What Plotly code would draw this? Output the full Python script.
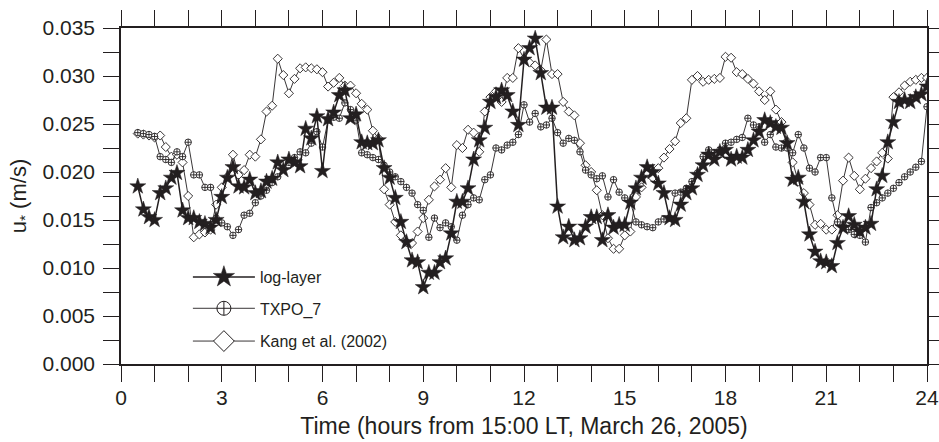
import plotly.graph_objects as go

# 10-minute samples from 0.5 h to 24 h after 15:00 LT
hours = [0.5 + i / 6 for i in range(142)]

log_layer = [
    .0185, .0161, .0153, .0150, .0178, .0183, .0194, .0199, .0160, .0152,
    .0152, .0148, .0146, .0142, .0150, .0174, .0194, .0205, .0185, .0184,
    .0192, .0178, .0180, .0190, .0193, .0210, .0202, .0213, .0210, .0206,
    .0245, .0235, .0258, .0201, .0255, .0262, .0280, .0285, .0256, .0260,
    .0231, .0230, .0230, .0233, .0204, .0194, .0173, .0148, .0127, .0108,
    .0106, .0080, .0095, .0095, .0106, .0110, .0136, .0169, .0169, .0183,
    .0213, .0233, .0246, .0273, .0278, .0285, .0280, .0263, .0249, .0317,
    .0329, .0339, .0303, .0267, .0267, .0164, .0132, .0143, .0129, .0131,
    .0143, .0153, .0153, .0129, .0155, .0142, .0145, .0145, .0168, .0183,
    .0194, .0205, .0200, .0188, .0178, .0152, .0150, .0166, .0178, .0183,
    .0197, .0207, .0218, .0213, .0221, .0223, .0213, .0216, .0215, .0223,
    .0233, .0242, .0254, .0251, .0247, .0246, .0230, .0192, .0194, .0169,
    .0135, .0117, .0107, .0106, .0102, .0126, .0142, .0154, .0145, .0138,
    .0142, .0146, .0182, .0196, .0231, .0252, .0273, .0275, .0273, .0278,
    .0281, .0289,
]

txpo_7 = [
    .0241, .0240, .0239, .0237, .0216, .0213, .0210, .0221, .0216, .0231,
    .0197, .0197, .0184, .0184, .0152, .0147, .0143, .0134, .0140, .0155,
    .0157, .0168, .0175, .0181, .0189, .0195, .0204, .0210, .0215, .0221,
    .0220, .0230, .0242, .0226, .0254, .0257, .0256, .0272, .0265, .0254,
    .0220, .0218, .0215, .0213, .0207, .0200, .0195, .0190, .0184, .0178,
    .0166, .0160, .0132, .0152, .0142, .0147, .0143, .0129, .0155, .0166,
    .0173, .0171, .0192, .0197, .0225, .0223, .0228, .0231, .0239, .0270,
    .0252, .0261, .0247, .0249, .0256, .0241, .0230, .0235, .0233, .0221,
    .0202, .0197, .0193, .0196, .0174, .0192, .0179, .0173, .0169, .0148,
    .0145, .0143, .0142, .0148, .0151, .0152, .0178, .0179, .0183, .0190,
    .0199, .0216, .0223, .0220, .0223, .0230, .0231, .0234, .0236, .0256,
    .0249, .0247, .0231, .0239, .0226, .0225, .0225, .0220, .0239, .0225,
    .0204, .0200, .0215, .0215, .0173, .0148, .0145, .0140, .0135, .0134,
    .0127, .0163, .0168, .0173, .0178, .0183, .0189, .0195, .0200, .0205,
    .0211, .0268,
]

kang_2002 = [
    .0240, .0239, .0238, .0236, .0238, .0226, .0216, .0218, .0210, .0175,
    .0132, .0135, .0137, .0140, .0166, .0184, .0195, .0218, .0197, .0202,
    .0218, .0216, .0234, .0263, .0269, .0318, .0301, .0282, .0297, .0308,
    .0309, .0308, .0307, .0304, .0289, .0293, .0298, .0290, .0290, .0282,
    .0271, .0265, .0243, .0235, .0182, .0166, .0148, .0134, .0127, .0126,
    .0138, .0152, .0171, .0185, .0192, .0204, .0184, .0228, .0225, .0244,
    .0241, .0221, .0263, .0278, .0284, .0273, .0298, .0298, .0329, .0318,
    .0314, .0311, .0306, .0338, .0302, .0302, .0273, .0263, .0259, .0230,
    .0207, .0200, .0181, .0155, .0131, .0120, .0120, .0134, .0138, .0174,
    .0184, .0199, .0194, .0204, .0215, .0224, .0232, .0251, .0256, .0296,
    .0300, .0294, .0296, .0297, .0298, .0320, .0319, .0304, .0302, .0297,
    .0292, .0284, .0275, .0284, .0265, .0252, .0232, .0210, .0190, .0178,
    .0166, .0145, .0146, .0140, .0140, .0155, .0191, .0215, .0196, .0182,
    .0193, .0204, .0211, .0220, .0214, .0278, .0283, .0290, .0294, .0296,
    .0298, .0298,
]

x_ticks = list(range(0, 25))
x_labels = [str(v) if v % 3 == 0 else " " for v in x_ticks]
y_ticks = [i * 0.0025 for i in range(15)]
y_labels = [f"{v:.3f}" if i % 2 == 0 else " " for i, v in enumerate(y_ticks)]

names = ["log-layer", "TXPO_7", "Kang et al. (2002)"]

FONT = "Liberation Sans, Arial, sans-serif"
INK = "#231f20"

fig = go.Figure()

fig.add_trace(go.Scatter(
    x=hours, y=kang_2002, mode="lines+markers", showlegend=False,
    line=dict(color=INK, width=0.9),
    marker=dict(symbol="diamond", size=7, color="white",
                line=dict(color=INK, width=0.9)),
))
fig.add_trace(go.Scatter(
    x=hours, y=txpo_7, mode="lines+markers", showlegend=False,
    line=dict(color=INK, width=0.9),
    marker=dict(symbol="circle-cross", size=6.5, color="white",
                line=dict(color=INK, width=0.9)),
))
fig.add_trace(go.Scatter(
    x=hours, y=log_layer, mode="lines+markers", showlegend=False,
    line=dict(color=INK, width=1.5),
    marker=dict(symbol="star", size=12, color=INK,
                line=dict(color=INK, width=0.5)),
))

# legend-only entries with larger symbols
legend_styles = [
    dict(symbol="star", size=16, color=INK, line=dict(color=INK, width=0.5)),
    dict(symbol="circle-cross", size=14, color="white", line=dict(color=INK, width=1)),
    dict(symbol="diamond", size=16, color="white", line=dict(color=INK, width=1)),
]
legend_widths = [1.5, 0.9, 0.9]
legend_ids = ["legend", "legend2", "legend3"]
legend_ys = [0.259, 0.1655, 0.068]
for nm, ms, lw, lid in zip(names, legend_styles, legend_widths, legend_ids):
    fig.add_trace(go.Scatter(
        x=[None], y=[None], mode="lines+markers", name=nm, legend=lid,
        line=dict(color=INK, width=lw), marker=ms,
    ))

legend_common = dict(
    x=0.083, xanchor="left", yanchor="middle", bgcolor="rgba(0,0,0,0)",
    borderwidth=0, itemwidth=62, font=dict(family=FONT, size=16, color=INK),
    itemsizing="trace",
)

fig.update_layout(
    width=939, height=442,
    margin=dict(l=121, r=12, t=28, b=78, autoexpand=False),
    paper_bgcolor="white", plot_bgcolor="white",
    font=dict(family=FONT, color=INK),
    legend=dict(y=legend_ys[0], **legend_common),
    legend2=dict(y=legend_ys[1], **legend_common),
    legend3=dict(y=legend_ys[2], **legend_common),
    xaxis=dict(
        range=[0, 24], tickvals=x_ticks, ticktext=x_labels, automargin=False,
        ticks="outside", ticklen=16, tickwidth=1.2, tickcolor=INK,
        showline=True, linewidth=1.5, linecolor=INK, mirror="ticks",
        showgrid=False, zeroline=False, ticklabelstandoff=-2,
        tickfont=dict(family=FONT, size=21, color=INK),
        title=dict(text="Time (hours from 15:00 LT, March 26, 2005)",
                   font=dict(family=FONT, size=23, color=INK), standoff=10),
    ),
    yaxis=dict(
        range=[0, 0.035], tickvals=y_ticks, ticktext=y_labels, automargin=False,
        ticks="outside", ticklen=16, tickwidth=1.2, tickcolor=INK,
        showline=True, linewidth=1.5, linecolor=INK, mirror="ticks",
        showgrid=False, zeroline=False, ticklabelstandoff=4,
        tickfont=dict(family=FONT, size=21, color=INK),
        title=dict(text="u<sub>*</sub> (m/s)",
                   font=dict(family=FONT, size=22, color=INK), standoff=10),
    ),
)

fig.write_html("out.html")
